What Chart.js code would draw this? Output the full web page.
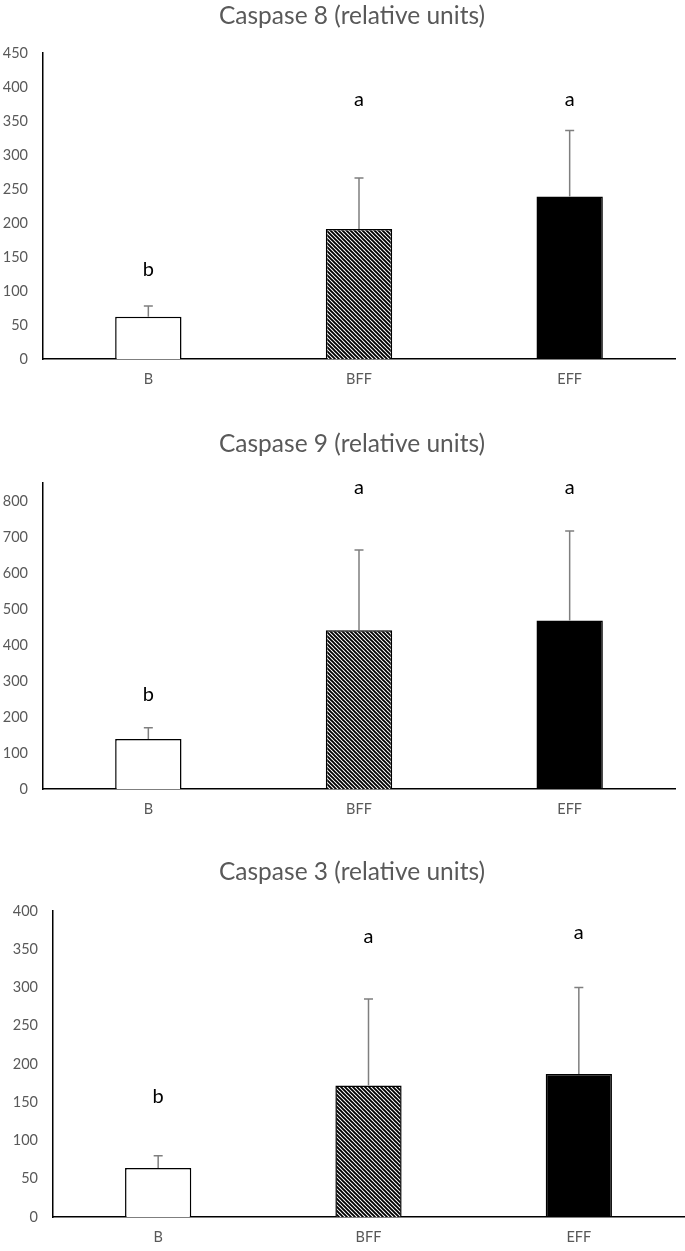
<!DOCTYPE html>
<html>
<head>
<meta charset="utf-8">
<script src="https://cdn.jsdelivr.net/npm/chart.js@4.4.0/dist/chart.umd.min.js"></script>
<style>
  html, body { margin: 0; padding: 0; background: #fff; }
  body { width: 685px; height: 1251px; position: relative; overflow: hidden; }
  canvas { position: absolute; left: 0; }
</style>
</head>
<body>
<canvas id="c1" width="685" height="400" style="top:0px"></canvas>
<canvas id="c2" width="685" height="400" style="top:425px"></canvas>
<canvas id="c3" width="685" height="401" style="top:850px"></canvas>
<script>
// ---- data ----
const categories = ['B', 'BFF', 'EFF'];

const casp8Title = 'Caspase 8 (relative units)';
const casp8Means = [62, 191, 239];
const casp8Errors = [16, 75, 97];
const casp8Letters = ['b', 'a', 'a'];
const casp8LetterAt = [131, 381, 381];
const casp8Ticks = [0, 50, 100, 150, 200, 250, 300, 350, 400, 450];

const casp9Title = 'Caspase 9 (relative units)';
const casp9Means = [139, 441, 468];
const casp9Errors = [31, 223, 249];
const casp9Letters = ['b', 'a', 'a'];
const casp9LetterAt = [261, 836, 836];
const casp9Ticks = [0, 100, 200, 300, 400, 500, 600, 700, 800];

const casp3Title = 'Caspase 3 (relative units)';
const casp3Means = [64, 172, 187];
const casp3Errors = [16, 113, 113];
const casp3Letters = ['b', 'a', 'a'];
const casp3LetterAt = [158, 366, 372];
const casp3Ticks = [0, 50, 100, 150, 200, 250, 300, 350, 400];

// ---- styling ----
const FONT = 'Lato, "Open Sans", "DejaVu Sans", sans-serif';
const GREY_TEXT = '#595959';

function hatchPattern() {
  const p = document.createElement('canvas');
  p.width = 4; p.height = 4;
  const g = p.getContext('2d');
  g.fillStyle = '#fff';
  g.fillRect(0, 0, 4, 4);
  g.strokeStyle = '#000';
  g.lineWidth = 1.9;
  g.beginPath();
  g.moveTo(-1, -1); g.lineTo(5, 5);
  g.moveTo(-1, 3); g.lineTo(1, 5);
  g.moveTo(3, -1); g.lineTo(5, 1);
  g.stroke();
  return document.getElementById('c1').getContext('2d').createPattern(p, 'repeat');
}

const extrasPlugin = {
  id: 'extras',
  afterDatasetsDraw(chart, args, opts) {
    const ctx = chart.ctx;
    const ys = chart.scales.y;
    const meta = chart.getDatasetMeta(0);
    ctx.save();
    // error bars (upper only)
    ctx.strokeStyle = '#7f7f7f';
    ctx.lineWidth = 1.5;
    opts.means.forEach((m, i) => {
      const x = meta.data[i].x;
      const y0 = ys.getPixelForValue(m);
      const y1 = ys.getPixelForValue(m + opts.errors[i]);
      ctx.beginPath();
      ctx.moveTo(x, y0); ctx.lineTo(x, y1);
      ctx.moveTo(x - 4.5, y1); ctx.lineTo(x + 4.5, y1);
      ctx.stroke();
    });
    // significance letters
    ctx.fillStyle = '#000';
    ctx.font = '20px ' + FONT;
    ctx.textAlign = 'center';
    ctx.textBaseline = 'middle';
    opts.letters.forEach((l, i) => {
      ctx.fillText(l, meta.data[i].x, ys.getPixelForValue(opts.letterAt[i]));
    });
    // title
    ctx.fillStyle = GREY_TEXT;
    ctx.font = '24.5px ' + FONT;
    ctx.fillText(opts.title, opts.titleX, opts.titleY);
    ctx.restore();
  }
};

function makeChart(id, cfg) {
  const hatch = hatchPattern();
  return new Chart(document.getElementById(id), {
    type: 'bar',
    data: {
      labels: categories,
      datasets: [{
        data: cfg.means,
        backgroundColor: ['#ffffff', hatch, '#000000'],
        borderColor: '#000000',
        borderWidth: 1.5,
        categoryPercentage: 1,
        barPercentage: 0.315
      }]
    },
    options: {
      responsive: false,
      animation: false,
      devicePixelRatio: 1,
      layout: { padding: cfg.padding },
      plugins: {
        legend: { display: false },
        tooltip: { enabled: false },
        title: { display: false },
        extras: {
          means: cfg.means, errors: cfg.errors, letters: cfg.letters,
          letterAt: cfg.letterAt, title: cfg.title, titleX: 352, titleY: cfg.titleY
        }
      },
      scales: {
        x: {
          grid: { display: false, drawTicks: false },
          border: { display: true, color: '#000', width: 1.5 },
          ticks: { color: GREY_TEXT, font: { family: FONT, size: 14.5 }, padding: 12 },
          afterFit: s => { s.height = 30; }
        },
        y: {
          min: 0, max: cfg.max,
          grid: { display: false, drawTicks: false },
          border: { display: true, color: '#000', width: 1.5 },
          ticks: { color: GREY_TEXT, font: { family: FONT, size: 14.5 }, padding: 15 },
          afterBuildTicks: s => { s.ticks = cfg.ticks.map(v => ({ value: v })); },
          afterFit: s => { s.width = cfg.axisW; }
        }
      }
    },
    plugins: [extrasPlugin]
  });
}

makeChart('c1', {
  means: casp8Means, errors: casp8Errors, letters: casp8Letters, letterAt: casp8LetterAt,
  title: casp8Title, titleY: 16, max: 450, ticks: casp8Ticks, axisW: 43,
  padding: { top: 53, bottom: 11, left: 0, right: 10 }
});
makeChart('c2', {
  means: casp9Means, errors: casp9Errors, letters: casp9Letters, letterAt: casp9LetterAt,
  title: casp9Title, titleY: 19, max: 850, ticks: casp9Ticks, axisW: 43,
  padding: { top: 58, bottom: 6, left: 0, right: 10 }
});
makeChart('c3', {
  means: casp3Means, errors: casp3Errors, letters: casp3Letters, letterAt: casp3LetterAt,
  title: casp3Title, titleY: 22, max: 400, ticks: casp3Ticks, axisW: 53,
  padding: { top: 61, bottom: 4, left: 0, right: 1 }
});
</script>
</body>
</html>
